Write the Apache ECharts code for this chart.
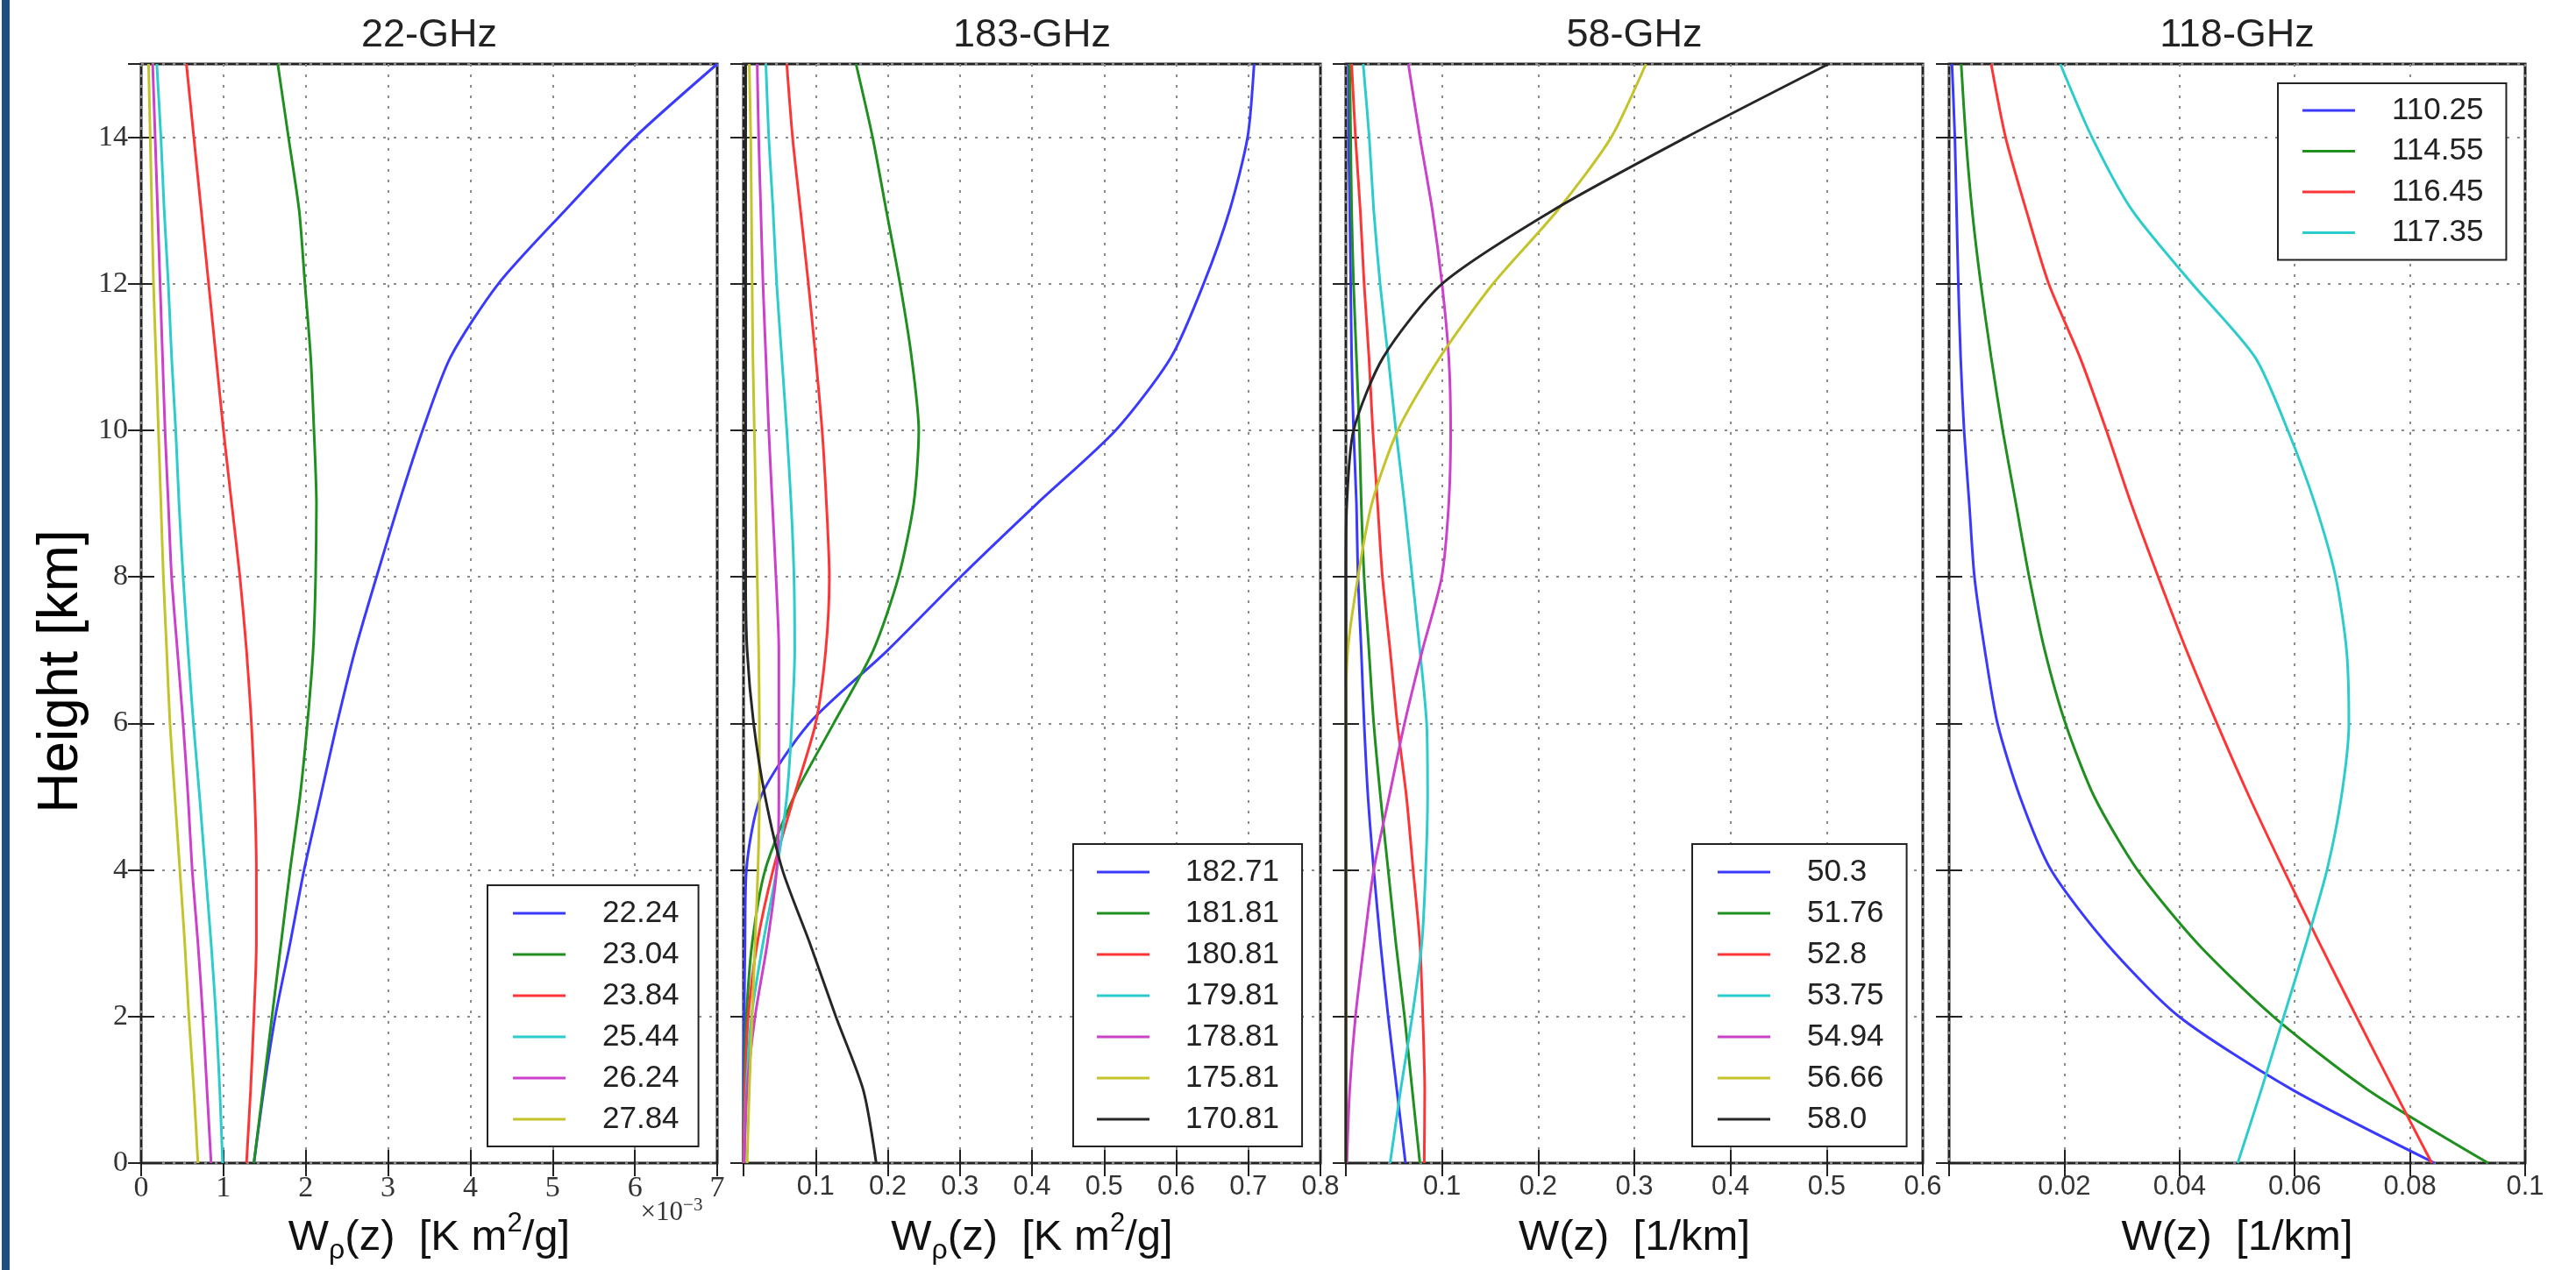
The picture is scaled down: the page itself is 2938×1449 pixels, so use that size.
<!DOCTYPE html>
<html>
<head>
<meta charset="utf-8">
<title>Weighting functions</title>
<script src="https://cdn.jsdelivr.net/npm/echarts@6/dist/echarts.min.js"></script>
<style>
  html, body { margin: 0; padding: 0; background: #fff; }
  #chart { width: 2938px; height: 1449px; }
</style>
</head>
<body>
<div id="chart"></div>
<script>
// height levels [km], shared by every profile
const heights = [0, 1, 2, 3, 4, 5, 6, 7, 8, 9, 10, 11, 12, 13, 14, 15]

// 22-GHz channels, W_rho in units of 1e-3 K m2/g
const names22 = ['22.24', '23.04', '23.84', '25.44', '26.24', '27.84']
const w22_24 = [1.37, 1.49, 1.63, 1.81, 1.98, 2.18, 2.38, 2.60, 2.86, 3.13, 3.42, 3.76, 4.34, 5.15, 6.0, 7.0]
const w23_04 = [1.37, 1.48, 1.59, 1.70, 1.81, 1.93, 2.02, 2.09, 2.12, 2.13, 2.10, 2.06, 1.99, 1.92, 1.79, 1.66]
const w23_84 = [1.28, 1.33, 1.37, 1.40, 1.40, 1.38, 1.34, 1.28, 1.20, 1.10, 1.00, 0.91, 0.82, 0.73, 0.64, 0.55]
const w25_44 = [0.99, 0.955, 0.91, 0.85, 0.78, 0.71, 0.635, 0.57, 0.51, 0.46, 0.42, 0.37, 0.33, 0.28, 0.24, 0.19]
const w26_24 = [0.85, 0.80, 0.75, 0.69, 0.62, 0.57, 0.51, 0.44, 0.37, 0.33, 0.29, 0.26, 0.23, 0.20, 0.17, 0.14]
const w27_84 = [0.69, 0.64, 0.58, 0.53, 0.47, 0.41, 0.35, 0.31, 0.27, 0.24, 0.21, 0.18, 0.15, 0.13, 0.11, 0.09]

// 183-GHz channels, W_rho in K m2/g
const names183 = ['182.71', '181.81', '180.81', '179.81', '178.81', '175.81', '170.81']
const w182_71 = [0, 0, 0.001, 0.002, 0.004, 0.024, 0.091, 0.20, 0.301, 0.407, 0.516, 0.593, 0.638, 0.674, 0.699, 0.708]
const w181_81 = [0, 0.001, 0.004, 0.012, 0.03, 0.07, 0.125, 0.18, 0.215, 0.236, 0.243, 0.233, 0.217, 0.198, 0.179, 0.156]
const w180_81 = [0, 0.002, 0.0065, 0.019, 0.041, 0.07, 0.10, 0.114, 0.119, 0.115, 0.109, 0.10, 0.09, 0.079, 0.068, 0.06]
const w179_81 = [0.001, 0.004, 0.011, 0.027, 0.046, 0.06, 0.067, 0.071, 0.07, 0.066, 0.06, 0.053, 0.046, 0.041, 0.035, 0.031]
const w178_81 = [0.001, 0.005, 0.016, 0.033, 0.046, 0.049, 0.049, 0.049, 0.045, 0.04, 0.035, 0.031, 0.027, 0.024, 0.021, 0.019]
const w175_81 = [0.005, 0.008, 0.012, 0.016, 0.020, 0.022, 0.022, 0.021, 0.019, 0.017, 0.015, 0.013, 0.012, 0.011, 0.010, 0.008]
const w170_81 = [0.184, 0.166, 0.128, 0.092, 0.054, 0.03, 0.014, 0.005, 0.003, 0.003, 0.003, 0.003, 0.003, 0.003, 0.003, 0.003]

// 58-GHz channels, W in 1/km
const names58 = ['50.3', '51.76', '52.8', '53.75', '54.94', '56.66', '58.0']
const w50_3 = [0.062, 0.053, 0.044, 0.036, 0.029, 0.023, 0.019, 0.016, 0.0126, 0.011, 0.008, 0.006, 0.005, 0.004, 0.003, 0.003]
const w51_76 = [0.077, 0.069, 0.061, 0.052, 0.044, 0.036, 0.029, 0.024, 0.019, 0.016, 0.014, 0.011, 0.008, 0.006, 0.005, 0.004]
const w52_8 = [0.0815, 0.082, 0.080, 0.077, 0.070, 0.063, 0.0535, 0.046, 0.038, 0.033, 0.028, 0.024, 0.019, 0.015, 0.010, 0.006]
const w53_75 = [0.046, 0.057, 0.069, 0.079, 0.083, 0.085, 0.084, 0.077, 0.069, 0.061, 0.052, 0.044, 0.0356, 0.029, 0.0243, 0.018]
const w54_94 = [0.001, 0.004, 0.010, 0.019, 0.029, 0.045, 0.061, 0.0796, 0.0997, 0.107, 0.109, 0.107, 0.10, 0.09, 0.077, 0.065]
const w56_66 = [0, 0, 0, 0, 0, 0, 0, 0.002, 0.0126, 0.027, 0.054, 0.098, 0.153, 0.22, 0.276, 0.312]
const w58_0 = [0, 0, 0, 0, 0, 0, 0, 0, 0, 0.001, 0.008, 0.039, 0.10, 0.215, 0.354, 0.502]

// 118-GHz channels, W in 1/km
const names118 = ['110.25', '114.55', '116.45', '117.35']
const w110_25 = [0.0843, 0.0596, 0.0399, 0.0273, 0.0177, 0.0123, 0.0084, 0.0062, 0.0044, 0.0035, 0.0026, 0.002, 0.0016, 0.0013, 0.001, 0.0005]
const w114_55 = [0.0936, 0.0727, 0.0563, 0.0431, 0.0327, 0.0252, 0.0202, 0.0166, 0.0139, 0.0116, 0.0093, 0.0073, 0.0055, 0.004, 0.0029, 0.0021]
const w116_45 = [0.0838, 0.0772, 0.0707, 0.0643, 0.0581, 0.0521, 0.0465, 0.0412, 0.0363, 0.0316, 0.0273, 0.0227, 0.0173, 0.0134, 0.0098, 0.0073]
const w117_35 = [0.0501, 0.0542, 0.0581, 0.062, 0.0656, 0.0681, 0.0694, 0.069, 0.0671, 0.0635, 0.0588, 0.0531, 0.0422, 0.0318, 0.0248, 0.0193]

const lineColors = ['#3a3aff', '#1f8f1f', '#ff3535', '#2ccccc', '#cc40cc', '#c4c42a', '#262626']
const fontSans = '"Liberation Sans", Arial, sans-serif'
const fontSerif = '"Liberation Serif", "DejaVu Serif", serif'

const nameRho = '{a|W}{s|ρ}{a|(z)  [K m}{p|2}{a|/g]}'
const nameW = '{a|W(z)  [1/km]}'

const panels = [
  { title: '22-GHz', names: names22, values: [w22_24, w23_04, w23_84, w25_44, w26_24, w27_84],
    left: 161, width: 657, max: 7, interval: 1, serif: true, axisName: nameRho,
    legend: { left: 556, top: 1010, pad: [14, 22, 13, 29], gap: 37, itemGap: 11 } },
  { title: '183-GHz', names: names183, values: [w182_71, w181_81, w180_81, w179_81, w178_81, w175_81, w170_81],
    left: 848, width: 658, max: 0.8, interval: 0.1, serif: false, axisName: nameRho,
    legend: { left: 1224, top: 963, pad: [14, 26, 13, 27], gap: 36, itemGap: 11 } },
  { title: '58-GHz', names: names58, values: [w50_3, w51_76, w52_8, w53_75, w54_94, w56_66, w58_0],
    left: 1535, width: 658, max: 0.6, interval: 0.1, serif: false, axisName: nameW,
    legend: { left: 1930, top: 963, pad: [14, 26, 13, 29], gap: 37, itemGap: 11 } },
  { title: '118-GHz', names: names118, values: [w110_25, w114_55, w116_45, w117_35],
    left: 2223, width: 657, max: 0.1, interval: 0.02, serif: false, axisName: nameW,
    legend: { left: 2598, top: 95, pad: [13, 26, 13, 28], gap: 37, itemGap: 10.5 } }
]

const plotTop = 73
const plotHeight = 1254

const chart = echarts.init(document.getElementById('chart'))

const tickStyle = { show: true, inside: true, length: 15, lineStyle: { color: '#222', width: 2 } }
const gridLineStyle = { show: true, lineStyle: { color: '#8a8a8a', width: 2, type: [3, 9] } }
const nameRich = {
  a: { fontFamily: fontSans, fontSize: 49, lineHeight: 62, color: '#111' },
  s: { fontFamily: fontSans, fontSize: 32, lineHeight: 30, verticalAlign: 'bottom', color: '#111' },
  p: { fontFamily: fontSans, fontSize: 31, lineHeight: 36, verticalAlign: 'top', color: '#111' }
}

const grids = []
const xAxes = []
const yAxes = []
const series = []
const legends = []
const graphics = [
  { type: 'rect', shape: { x: 2, y: 0, width: 9, height: 1449 }, style: { fill: '#1f4f7f' } },
  {
    type: 'text', x: 70, y: 766, rotation: Math.PI / 2,
    style: {
      text: 'Height [km]', align: 'center', verticalAlign: 'middle',
      fontFamily: fontSans, fontSize: 64, fill: '#000'
    }
  }
]

panels.forEach((p, i) => {
  grids.push({
    left: p.left, top: plotTop, width: p.width, height: plotHeight,
    show: true, backgroundColor: '#fff', borderColor: '#222', borderWidth: 3,
    outerBoundsMode: 'none'
  })

  xAxes[i] = {
    type: 'value', gridIndex: i, min: 0, max: p.max, interval: p.interval, position: 'bottom',
    axisLine: { show: false },
    axisTick: tickStyle,
    splitLine: gridLineStyle,
    axisLabel: {
      showMinLabel: i === 0, margin: 12, color: '#333',
      fontFamily: p.serif ? fontSerif : fontSans, fontSize: p.serif ? 34 : 31
    },
    name: p.axisName, nameLocation: 'middle', nameGap: 54,
    nameTextStyle: { rich: nameRich }
  }
  xAxes[i + 4] = {
    type: 'value', gridIndex: i, min: 0, max: p.max, interval: p.interval, position: 'top',
    axisLine: { show: false }, axisTick: tickStyle, splitLine: { show: false }, axisLabel: { show: false }
  }

  yAxes[i] = {
    type: 'value', gridIndex: i, min: 0, max: 15, interval: 2, position: 'left',
    axisLine: { show: false },
    axisTick: tickStyle,
    splitLine: gridLineStyle,
    axisLabel: {
      show: i === 0, showMaxLabel: false, margin: 15, color: '#333',
      fontFamily: fontSerif, fontSize: 34
    }
  }
  yAxes[i + 4] = {
    type: 'value', gridIndex: i, min: 0, max: 15, interval: 2, position: 'right',
    axisLine: { show: false }, axisTick: tickStyle, splitLine: { show: false }, axisLabel: { show: false }
  }

  p.names.forEach((name, k) => {
    series.push({
      name: name,
      type: 'line',
      xAxisIndex: i,
      yAxisIndex: i,
      color: lineColors[k],
      symbol: 'none',
      smooth: 0.25,
      lineStyle: { width: 3 },
      data: heights.map((h, j) => [p.values[k][j], h])
    })
  })

  legends.push({
    data: p.names,
    orient: 'vertical',
    left: p.legend.left,
    top: p.legend.top,
    padding: p.legend.pad,
    itemGap: p.legend.itemGap,
    icon: 'rect',
    itemWidth: 60,
    itemHeight: 3,
    selectedMode: false,
    backgroundColor: '#fff',
    borderColor: '#222',
    borderWidth: 2,
    borderRadius: 0,
    textStyle: {
      fontFamily: fontSans, fontSize: 35, lineHeight: 36, color: '#222',
      padding: [0, 0, 0, p.legend.gap]
    }
  })

  graphics.push({
    type: 'text',
    x: p.left + p.width / 2,
    y: 41,
    style: {
      text: p.title, align: 'center', verticalAlign: 'middle',
      fontFamily: fontSans, fontSize: 45, fill: '#222'
    }
  })
})

// axis offset text of the first panel
graphics.push({
  type: 'text',
  x: 766,
  y: 1384,
  style: {
    text: '{a|×10}{b|−3}', align: 'center', verticalAlign: 'middle',
    rich: {
      a: { fontFamily: fontSerif, fontSize: 31, lineHeight: 38, fill: '#333' },
      b: { fontFamily: fontSerif, fontSize: 21, lineHeight: 22, verticalAlign: 'top', fill: '#333' }
    }
  }
})

chart.setOption({
  animation: false,
  backgroundColor: '#fff',
  grid: grids,
  xAxis: xAxes,
  yAxis: yAxes,
  legend: legends,
  series: series,
  graphic: graphics
})

window.addEventListener('resize', () => chart.resize())
</script>
</body>
</html>
